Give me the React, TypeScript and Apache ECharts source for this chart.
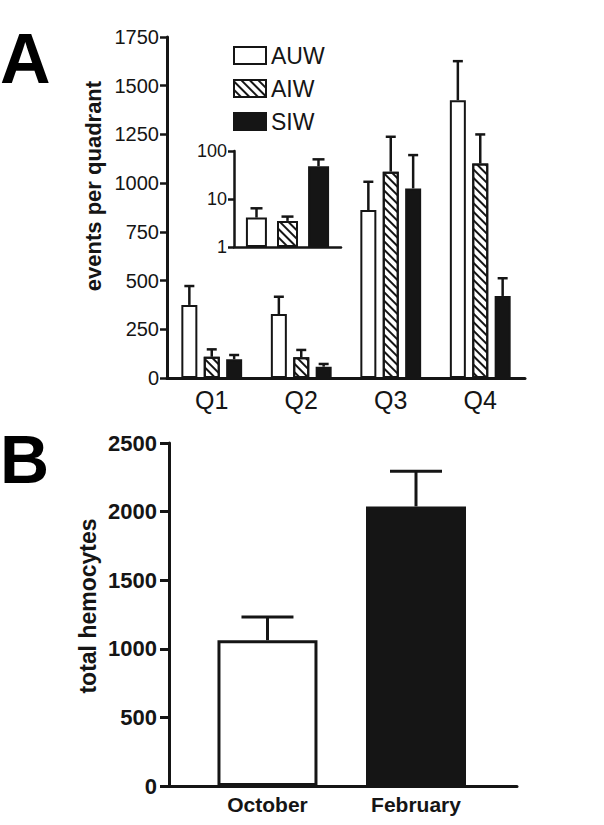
import React, { useEffect, useRef } from 'react';
import * as echarts from 'echarts';

// ---------- data ----------
const quadrants = ['Q1', 'Q2', 'Q3', 'Q4'];
const groupNames = ['AUW', 'AIW', 'SIW'];
const auwMean = [375, 328, 862, 1426];
const auwErr = [97, 89, 145, 200];
const aiwMean = [109, 106, 1059, 1101];
const aiwErr = [38, 38, 179, 149];
const siwMean = [96, 58, 973, 421];
const siwErr = [22, 14, 171, 91];

const insetMean = [4.1, 3.5, 48];
const insetErr = [2.3, 0.8, 19];

const months = ['October', 'February'];
const hemoMean = [1063, 2038];
const hemoErr = [169, 257];

// ---------- styles ----------
const INK = '#151515';
const FONT = '"Liberation Sans", Arial, Helvetica, sans-serif';
const hatch = {
  symbol: 'rect',
  symbolSize: 1,
  color: INK,
  dashArrayX: [1, 0],
  dashArrayY: [1.2, 3.2],
  rotation: Math.PI / 4,
};
const groupStyles: any[] = [
  { color: '#ffffff', borderColor: INK, borderWidth: 2 },
  { color: '#ffffff', borderColor: INK, borderWidth: 2, decal: hatch },
  { color: INK, borderColor: INK, borderWidth: 2 },
];
const monthStyles: any[] = [
  { color: '#ffffff', borderColor: INK, borderWidth: 3 },
  { color: INK, borderColor: INK, borderWidth: 3 },
];

const errItem = (offset: number, cap: number, lw: number) => (params: any, api: any) => {
  const base = api.coord([api.value(0), api.value(1)]);
  const top = api.coord([api.value(0), api.value(2)]);
  const x = base[0] + offset;
  return {
    type: 'group',
    children: [
      { type: 'line', shape: { x1: x, y1: base[1], x2: x, y2: top[1] }, style: { stroke: INK, lineWidth: lw } },
      { type: 'line', shape: { x1: x - cap / 2, y1: top[1], x2: x + cap / 2, y2: top[1] }, style: { stroke: INK, lineWidth: lw } },
    ],
  };
};

const plain = (v: number) => String(v);

export default function App() {
  const ref = useRef<HTMLDivElement>(null);
  useEffect(() => {
    if (!ref.current) return;
    const chart = echarts.init(ref.current, undefined, { renderer: 'svg' });
    const means = [auwMean, aiwMean, siwMean];
    const errs = [auwErr, aiwErr, siwErr];
    const mainPitch = 16 + 6.4;
    const insetPitch = 21 + 10;

    const series: any[] = [];
    groupNames.forEach((name, g) => {
      series.push({
        type: 'bar', name, xAxisIndex: 0, yAxisIndex: 0,
        barWidth: 16, barGap: '40%',
        itemStyle: groupStyles[g],
        data: means[g],
      });
    });
    groupNames.forEach((name, g) => {
      series.push({
        type: 'custom', name: name + ' err', xAxisIndex: 0, yAxisIndex: 0,
        renderItem: errItem((g - 1) * mainPitch, 10, 2.5),
        encode: { x: 0, y: [1, 2] },
        data: quadrants.map((_, i) => [i, means[g][i], means[g][i] + errs[g][i]]),
        z: 3,
      });
    });
    groupNames.forEach((name, g) => {
      series.push({
        type: 'bar', name, xAxisIndex: 1, yAxisIndex: 1,
        barWidth: 21, barGap: '48%',
        itemStyle: groupStyles[g],
        data: [insetMean[g]],
      });
      series.push({
        type: 'custom', name: name + ' inset err', xAxisIndex: 1, yAxisIndex: 1,
        renderItem: errItem((g - 1) * insetPitch, 12, 2.5),
        encode: { x: 0, y: [1, 2] },
        data: [[0, insetMean[g], insetMean[g] + insetErr[g]]],
        z: 3,
      });
    });
    series.push({
      type: 'bar', name: 'total hemocytes', xAxisIndex: 2, yAxisIndex: 2,
      barWidth: 100,
      data: months.map((_, i) => ({ value: [i + 1, hemoMean[i]], itemStyle: monthStyles[i] })),
    });
    series.push({
      type: 'custom', name: 'hemocytes err', xAxisIndex: 2, yAxisIndex: 2,
      renderItem: errItem(0, 52, 3),
      encode: { x: 0, y: [1, 2] },
      data: months.map((_, i) => [i + 1, hemoMean[i], hemoMean[i] + hemoErr[i]]),
      z: 3,
    });

    const axisLine = (w: number) => ({ show: true, lineStyle: { color: INK, width: w } });
    const tick = (len: number, w: number) => ({ show: true, length: len, lineStyle: { color: INK, width: w } });

    chart.setOption({
      animation: false,
      backgroundColor: '#ffffff',
      textStyle: { fontFamily: FONT },
      grid: [
        { left: 167, top: 37, width: 358, height: 341 },
        { left: 234, top: 151, width: 107, height: 96 },
        { left: 169, top: 443, width: 348, height: 343 },
      ],
      legend: {
        data: groupNames,
        orient: 'vertical',
        left: 228,
        top: 39,
        itemWidth: 32,
        itemHeight: 17,
        itemGap: 10,
        icon: 'rect',
        selectedMode: false,
        textStyle: { fontSize: 23, color: INK, fontFamily: FONT, lineHeight: 17 },
      },
      xAxis: [
        {
          type: 'category', gridIndex: 0, data: quadrants,
          axisLine: axisLine(3), axisTick: { show: false },
          axisLabel: { fontSize: 25, color: INK, margin: 9, fontFamily: FONT },
        },
        {
          type: 'category', gridIndex: 1, data: [''],
          axisLine: axisLine(2.5), axisTick: { show: false }, axisLabel: { show: false },
        },
        {
          type: 'value', gridIndex: 2, min: 0.337, max: 2.68,
          axisLine: axisLine(3), axisTick: { show: false }, splitLine: { show: false },
          axisLabel: {
            customValues: months.map((_, i) => i + 1),
            formatter: (v: number) => months[Math.round(v) - 1] ?? '',
            fontSize: 21, fontWeight: 'bold', color: INK, margin: 8, fontFamily: FONT,
          },
        },
      ],
      yAxis: [
        {
          type: 'value', gridIndex: 0, min: 0, max: 1750, interval: 250,
          axisLine: axisLine(3), axisTick: tick(7, 2.5), splitLine: { show: false },
          axisLabel: { fontSize: 20, color: INK, margin: 8, fontFamily: FONT, formatter: plain },
        },
        {
          type: 'log', gridIndex: 1, min: 1, max: 100, logBase: 10,
          axisLine: axisLine(2.5), axisTick: tick(6, 2.5), splitLine: { show: false },
          minorTick: { show: false },
          axisLabel: { fontSize: 18, color: INK, margin: 7, fontFamily: FONT, formatter: plain },
        },
        {
          type: 'value', gridIndex: 2, min: 0, max: 2500, interval: 500,
          axisLine: axisLine(3), axisTick: tick(9, 3), splitLine: { show: false },
          axisLabel: { fontSize: 22, fontWeight: 'bold', color: INK, margin: 12, fontFamily: FONT, formatter: plain },
        },
      ],
      graphic: [
        { type: 'text', left: 0, top: 24, style: { text: 'A', fontSize: 70, fontWeight: 'bold', fill: '#000', fontFamily: FONT } },
        { type: 'text', left: 0, top: 425, style: { text: 'B', fontSize: 68, fontWeight: 'bold', fill: '#000', fontFamily: FONT } },
        {
          type: 'text', x: 93, y: 186, rotation: Math.PI / 2,
          style: { text: 'events per quadrant', fontSize: 22, fontWeight: 'bold', fill: INK, fontFamily: FONT, align: 'center', verticalAlign: 'middle' },
        },
        {
          type: 'text', x: 88, y: 606, rotation: Math.PI / 2,
          style: { text: 'total hemocytes', fontSize: 23, fontWeight: 'bold', fill: INK, fontFamily: FONT, align: 'center', verticalAlign: 'middle' },
        },
      ],
      series,
    });
    return () => chart.dispose();
  }, []);
  return <div ref={ref} style={{ position: 'absolute', left: 0, top: 0, width: 604, height: 825 }} />;
}
